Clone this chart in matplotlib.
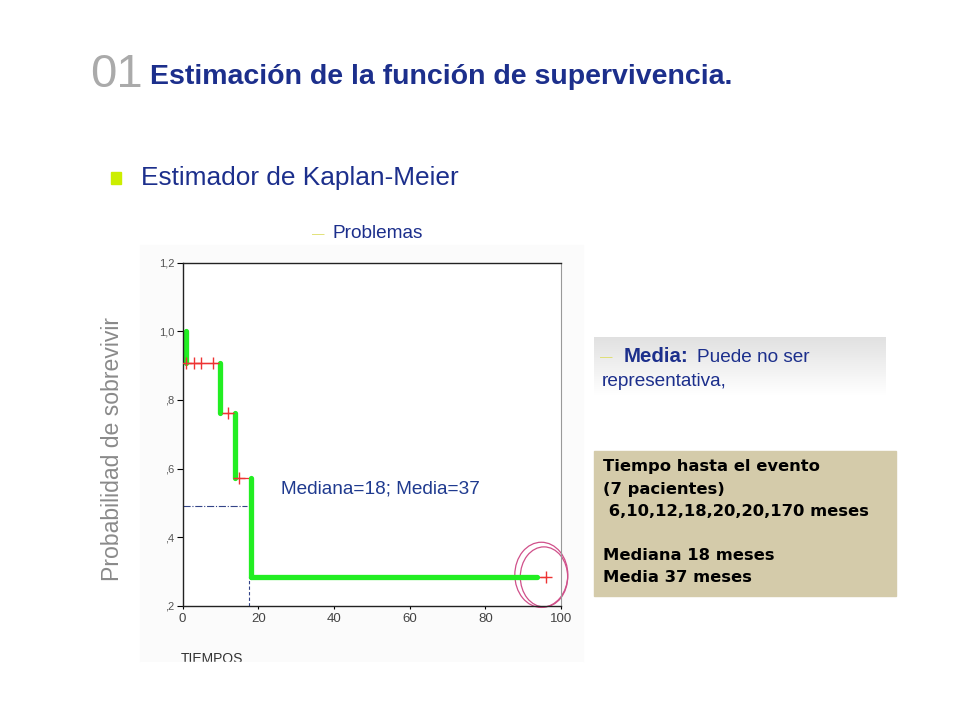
import numpy as np
import matplotlib
matplotlib.use('Agg')
import matplotlib.pyplot as plt
from matplotlib.patches import Rectangle, Ellipse

# Kaplan-Meier curve
step_t = [0, 1, 10, 14, 18]
step_s = [1.0, 0.909, 0.762, 0.572, 0.285]
end_t = 96
green_end = 93.6
censor_t = [1, 3, 5, 8, 12, 15, 96]
censor_s = [0.909, 0.909, 0.909, 0.909, 0.762, 0.572, 0.285]
median_t = 17.5
median_s = 0.49

yticks = [0.2, 0.4, 0.6, 0.8, 1.0, 1.2]
ylabels = [',2', ',4', ',6', ',8', '1,0', '1,2']
xticks = [0, 20, 40, 60, 80, 100]

box_lines = ['Tiempo hasta el evento', '(7 pacientes)', ' 6,10,12,18,20,20,170 meses',
             '', 'Mediana 18 meses', 'Media 37 meses']

W, H = 960, 720
BLUE = '#1c2f8c'
fig = plt.figure(figsize=(9.6, 7.2), dpi=100)
plt.rcParams['font.family'] = ['Liberation Sans', 'DejaVu Sans']

def fx(x):
    return x / W

def fy(y):
    return 1 - y / H

# slide header
fig.text(fx(90), fy(75), '01', fontsize=34, color='#aaaaaa', va='center', ha='left')
fig.text(fx(150), fy(77), 'Estimación de la función de supervivencia.', fontsize=20.5,
         fontweight='bold', color=BLUE, va='center', ha='left')
fig.patches.append(Rectangle((fx(111), fy(184)), fx(10), 12 / H, color='#ccee00',
                             transform=fig.transFigure, figure=fig))
fig.text(fx(141), fy(178), 'Estimador de Kaplan-Meier', fontsize=18.9, color=BLUE,
         va='center', ha='left')
fig.text(fx(312), fy(235), '—', fontsize=9, color='#dddd66', va='center', ha='left')
fig.text(fx(332), fy(233), 'Problemas', fontsize=13.7, color=BLUE, va='center', ha='left')

# faint background of the pasted chart image
fig.patches.append(Rectangle((fx(140), fy(662)), fx(443), 417 / H, color='#fbfbfb',
                             transform=fig.transFigure, figure=fig, zorder=-5))

ax = fig.add_axes([fx(182.5), fy(605.7), fx(561 - 182.5), (605.7 - 262.7) / H])
ax.set_facecolor('white')

# red KM line (under the green highlight) and censor marks
ax.step(step_t + [end_t], step_s + [step_s[-1]], where='post', color='#ee3333', lw=0.9,
        zorder=1.5)
ax.plot(censor_t, censor_s, linestyle='none', marker='+', markersize=9, mew=1,
        color='#ee3333', zorder=4)

# green highlight over drops and the long last step
for i in range(1, len(step_t)):
    ax.plot([step_t[i], step_t[i]], [step_s[i - 1], step_s[i]], color='#22ee22',
            lw=3.8, solid_capstyle='round', zorder=2)
ax.plot([step_t[-1], green_end], [step_s[-1], step_s[-1]], color='#22ee22', lw=3.8,
        solid_capstyle='round', zorder=2)

# median reference lines
ax.plot([0, median_t - 0.5], [median_s, median_s], color='#334488', lw=0.8,
        linestyle='-.', zorder=1)
ax.plot([median_t, median_t], [0.2, step_s[-1]], color='#334488', lw=0.8,
        linestyle=(0, (3, 2)), zorder=1)

ax.text(26, 0.54, 'Mediana=18; Media=37', fontsize=13.7, color='#1f3a8f', va='center')

# hand drawn circle around last censored case
cx, cy = censor_t[-1] - 1.2, censor_s[-1] + 0.005
ax.add_patch(Ellipse((cx, cy), 14, 0.19, fill=False, ec='#d0508a', lw=0.9,
                     clip_on=False))
ax.add_patch(Ellipse((cx + 0.7, cy - 0.006), 12.5, 0.175, fill=False,
                     ec='#d0508a', lw=0.9, clip_on=False))

ax.set_xlim(0, 100)
ax.set_ylim(0.2, 1.2)
ax.set_xticks(xticks)
ax.set_xticklabels([str(t) for t in xticks], fontsize=9.5, color='#444444')
ax.set_yticks(yticks)
ax.set_yticklabels(ylabels, fontsize=8, color='#555555')
ax.tick_params(axis='y', length=4, width=0.8, pad=2)
ax.tick_params(axis='x', length=2, width=0.8, pad=3)
for s in ['left', 'bottom', 'top']:
    ax.spines[s].set_color('#222222')
    ax.spines[s].set_linewidth(1)
ax.spines['right'].set_color('#999999')

fig.text(fx(113), fy(449), 'Probabilidad de sobrevivir', fontsize=16.6, color='#8a8a8a',
         rotation=90, va='center', ha='center')
fig.text(fx(181), fy(659), 'TIEMPOS', fontsize=10, color='#333333', va='center', ha='left')
# the pasted image is cut just below the axis title
fig.patches.append(Rectangle((fx(140), fy(672)), fx(443), 10 / H, color='white',
                             transform=fig.transFigure, figure=fig, zorder=10))

# gradient box "Media"
gax = fig.add_axes([fx(594), fy(395), fx(886 - 594), (395 - 337) / H])
grad = np.linspace(0.88, 1.0, 64).reshape(-1, 1)
gax.imshow(np.dstack([grad, grad, grad]), aspect='auto', extent=[0, 1, 0, 1])
gax.axis('off')
fig.text(fx(600), fy(358), '—', fontsize=9, color='#dddd66', va='center', ha='left')
fig.text(fx(624), fy(356), 'Media:', fontsize=14.7, fontweight='bold', color=BLUE,
         va='center', ha='left')
fig.text(fx(697), fy(357), 'Puede no ser', fontsize=13.7, color=BLUE, va='center', ha='left')
fig.text(fx(602), fy(382), 'representativa,', fontsize=13.7, color=BLUE, va='center',
         ha='left')

# tan info box
fig.patches.append(Rectangle((fx(594), fy(596)), fx(302), 145 / H, color='#d4cbaa',
                             transform=fig.transFigure, figure=fig))
for i, line in enumerate(box_lines):
    fig.text(fx(603), fy(467 + 22.2 * i), line, fontsize=11.8, fontweight='bold',
             family='DejaVu Sans', color='black', va='center', ha='left')

fig.savefig('out.png', dpi=100)
